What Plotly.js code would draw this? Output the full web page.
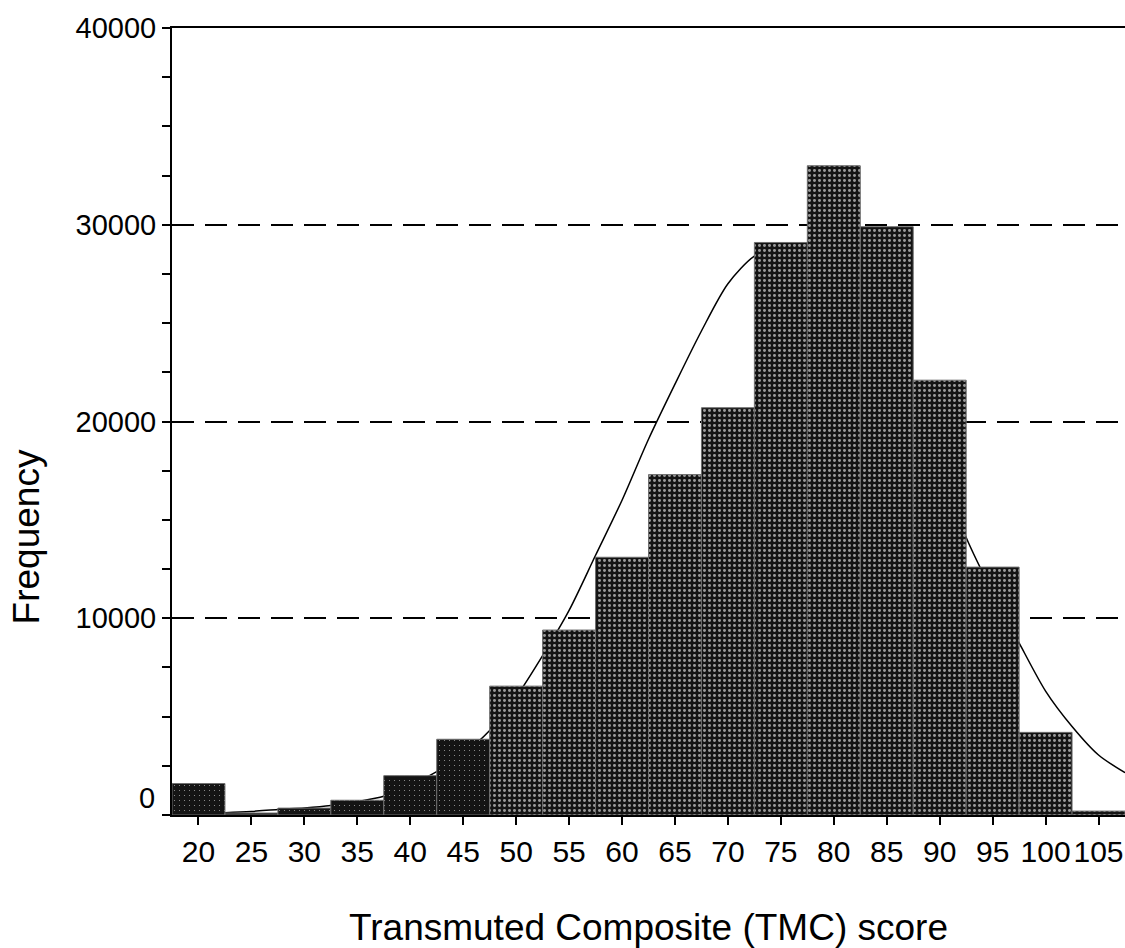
<!DOCTYPE html>
<html>
<head>
<meta charset="utf-8">
<script src="https://cdn.plot.ly/plotly-3.0.1.min.js"></script>
<style>html,body{margin:0;padding:0;background:#fff;}#chart{width:1125px;height:948px;}</style>
</head>
<body>
<div id="chart"></div>
<script>
// Histogram bins (TMC score bin centres) and frequencies
const binCenters = [20, 25, 30, 35, 40, 45, 50, 55, 60, 65, 70, 75, 80, 85, 90, 95, 100, 105];
const frequencies = [1600, 100, 350, 750, 2000, 3850, 6550, 9400, 13100, 17300, 20700, 29100, 33000, 29900, 22100, 12600, 4200, 200];

// Fitted curve
const curveX = [17.5, 20, 22.5, 25, 27.5, 30, 32.5, 35, 37.5, 40, 42.5, 45, 47.5, 50, 52.5, 55, 57.5, 60, 62.5, 65, 67.5, 70, 72.5, 75, 77.5, 80, 82.5, 85, 87.5, 90, 92.5, 95, 97.5, 100, 102.5, 105, 107.5];
const curveY = [50, 80, 120, 180, 280, 360, 480, 680, 950, 1500, 2200, 3100, 4300, 6000, 8100, 10400, 13200, 16000, 19100, 21900, 24600, 27000, 28400, 28900, 29000, 28700, 27200, 24700, 21400, 17700, 14100, 11300, 8750, 6300, 4500, 3050, 2150];

// Axis ticks
const xTickVals = [20, 25, 30, 35, 40, 45, 50, 55, 60, 65, 70, 75, 80, 85, 90, 95, 100, 105];
const yTickVals = [0, 10000, 20000, 30000, 40000];
const yTickText = ['', '10000', '20000', '30000', '40000'];

const font = 'Liberation Sans, Arial, sans-serif';

const curve = {
  type: 'scatter', mode: 'lines', x: curveX, y: curveY,
  line: {color: '#000', width: 1.5, shape: 'spline', smoothing: 0.8},
  xaxis: 'x', yaxis: 'y', hoverinfo: 'skip', showlegend: false
};

const solid = binCenters.map(c => c < 50 ? 0.04 : 0.28);
const bars = {
  type: 'bar', x: binCenters, y: frequencies, width: 5,
  marker: {
    color: '#141414',
    line: {color: '#6e6e6e', width: 1},
    pattern: {shape: '.', fgcolor: '#9a9a9a', bgcolor: '#141414', size: 5, solidity: solid}
  },
  xaxis: 'x2', yaxis: 'y2', showlegend: false
};

const layout = {
  width: 1125, height: 948,
  margin: {l: 172, r: 0, t: 28, b: 133},
  paper_bgcolor: '#fff', plot_bgcolor: '#fff',
  font: {family: font, color: '#000', size: 29},
  bargap: 0,
  xaxis: {
    range: [17.5, 107.5], tickvals: xTickVals, ticks: 'outside', ticklen: 8, tickwidth: 2,
    tickcolor: '#000', showline: true, linecolor: '#000', linewidth: 2, mirror: true,
    showgrid: false, zeroline: false, ticklabelstandoff: 1,
    tickfont: {family: font, size: 30, color: '#000'},
    title: {text: 'Transmuted Composite (TMC) score', font: {family: font, size: 37, color: '#000'}, standoff: 48}
  },
  yaxis: {
    range: [0, 40000], tickvals: yTickVals, ticktext: yTickText, ticks: 'outside', ticklen: 8, tickwidth: 2,
    tickcolor: '#000', showline: true, linecolor: '#000', linewidth: 2,
    showgrid: true, gridcolor: '#000', gridwidth: 2, griddash: '22px,11px', zeroline: false,
    tickfont: {family: font, size: 29, color: '#000'}, ticklabelstandoff: 0,
    minor: {dtick: 2500, ticks: 'outside', ticklen: 8, tickwidth: 2, tickcolor: '#000', showgrid: false}
  },
  xaxis2: {overlaying: 'x', range: [17.5, 107.5], visible: false},
  yaxis2: {overlaying: 'y', range: [0, 40000], visible: false},
  annotations: [
    {text: '0', xref: 'paper', yref: 'y', x: 0, y: 0, xanchor: 'right', yanchor: 'middle',
     xshift: -15, yshift: 17, showarrow: false, font: {family: font, size: 29, color: '#000'}},
    {text: 'Frequency', xref: 'paper', yref: 'paper', x: -0.153, y: 0.353, xanchor: 'center', yanchor: 'middle',
     textangle: -90, showarrow: false, font: {family: font, size: 37, color: '#000'}}
  ]
};

Plotly.newPlot('chart', [curve, bars], layout, {displayModeBar: false, staticPlot: true});
</script>
</body>
</html>
